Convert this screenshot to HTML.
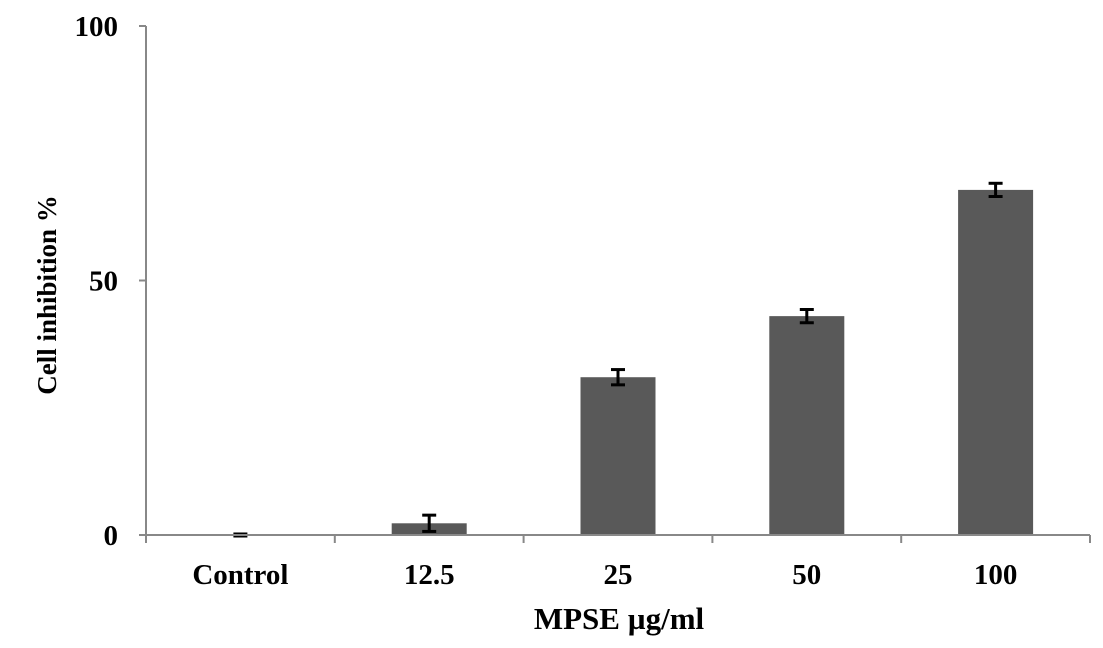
<!DOCTYPE html>
<html><head><meta charset="utf-8"><style>
body{margin:0;background:#fff}
svg text{font-family:"Liberation Serif",serif;font-weight:bold;fill:#000}
</style></head><body>
<svg width="1103" height="643" id="c"></svg>
<script>
const categories=["Control","12.5","25","50","100"];
const values=[0,2.3,31,43,67.8];
const errors=[0.2,1.6,1.5,1.3,1.3];
const yTicks=[0,50,100];
const svg=document.getElementById('c');
const NS="http://www.w3.org/2000/svg";
const x0=146,x1=1090,y0=535,y100=26;
const bw=(x1-x0)/categories.length;
const yS=v=>y0-(v/100)*(y0-y100);
const xC=i=>x0+bw*(i+0.5);
function mk(t,a,p){const e=document.createElementNS(NS,t);for(const k in a)e.setAttribute(k,a[k]);(p||svg).appendChild(e);return e;}
let g=mk('g',{});


mk('line',{x1:x0,y1:y100,x2:x0,y2:y0,stroke:'#888','stroke-width':2},g);
yTicks.forEach(t=>{
  mk('line',{x1:x0-7,y1:yS(t),x2:x0,y2:yS(t),stroke:'#888','stroke-width':2},g);
  const tx=mk('text',{x:x0-28,y:yS(t)+10,'text-anchor':'end','font-size':29},g);tx.textContent=t;
  
  
});
const yt=mk('text',{x:0,y:0,transform:'translate(56,295) rotate(-90)','text-anchor':'middle','font-size':27});
yt.textContent='Cell inhibition %';


categories.forEach((c,i)=>{
  const v=values[i],e=errors[i],cx=xC(i);
  if(v>0){const r=mk('rect',{x:cx-37.5,y:yS(v),width:75,height:y0-yS(v),fill:'#595959'});
  
  }
  const eb=mk('g',{stroke:'#000','stroke-width':3});
  
  
  mk('line',{x1:cx,y1:yS(v+e),x2:cx,y2:yS(v-e)},eb);
  mk('line',{x1:cx-7,y1:yS(v+e),x2:cx+7,y2:yS(v+e)},eb);
  mk('line',{x1:cx-7,y1:yS(v-e),x2:cx+7,y2:yS(v-e)},eb);
  const t=mk('text',{x:cx,y:584,'text-anchor':'middle','font-size':29});t.textContent=c;
  
  
});
const xa=mk('g',{stroke:'#888','stroke-width':2});


mk('line',{x1:x0,y1:y0,x2:x1,y2:y0},xa);
for(let i=0;i<=categories.length;i++)mk('line',{x1:x0+bw*i,y1:y0,x2:x0+bw*i,y2:y0+8},xa);
const xt=mk('text',{x:619,y:629,'text-anchor':'middle','font-size':31});
xt.textContent='MPSE µg/ml';


</script>
</body></html>
